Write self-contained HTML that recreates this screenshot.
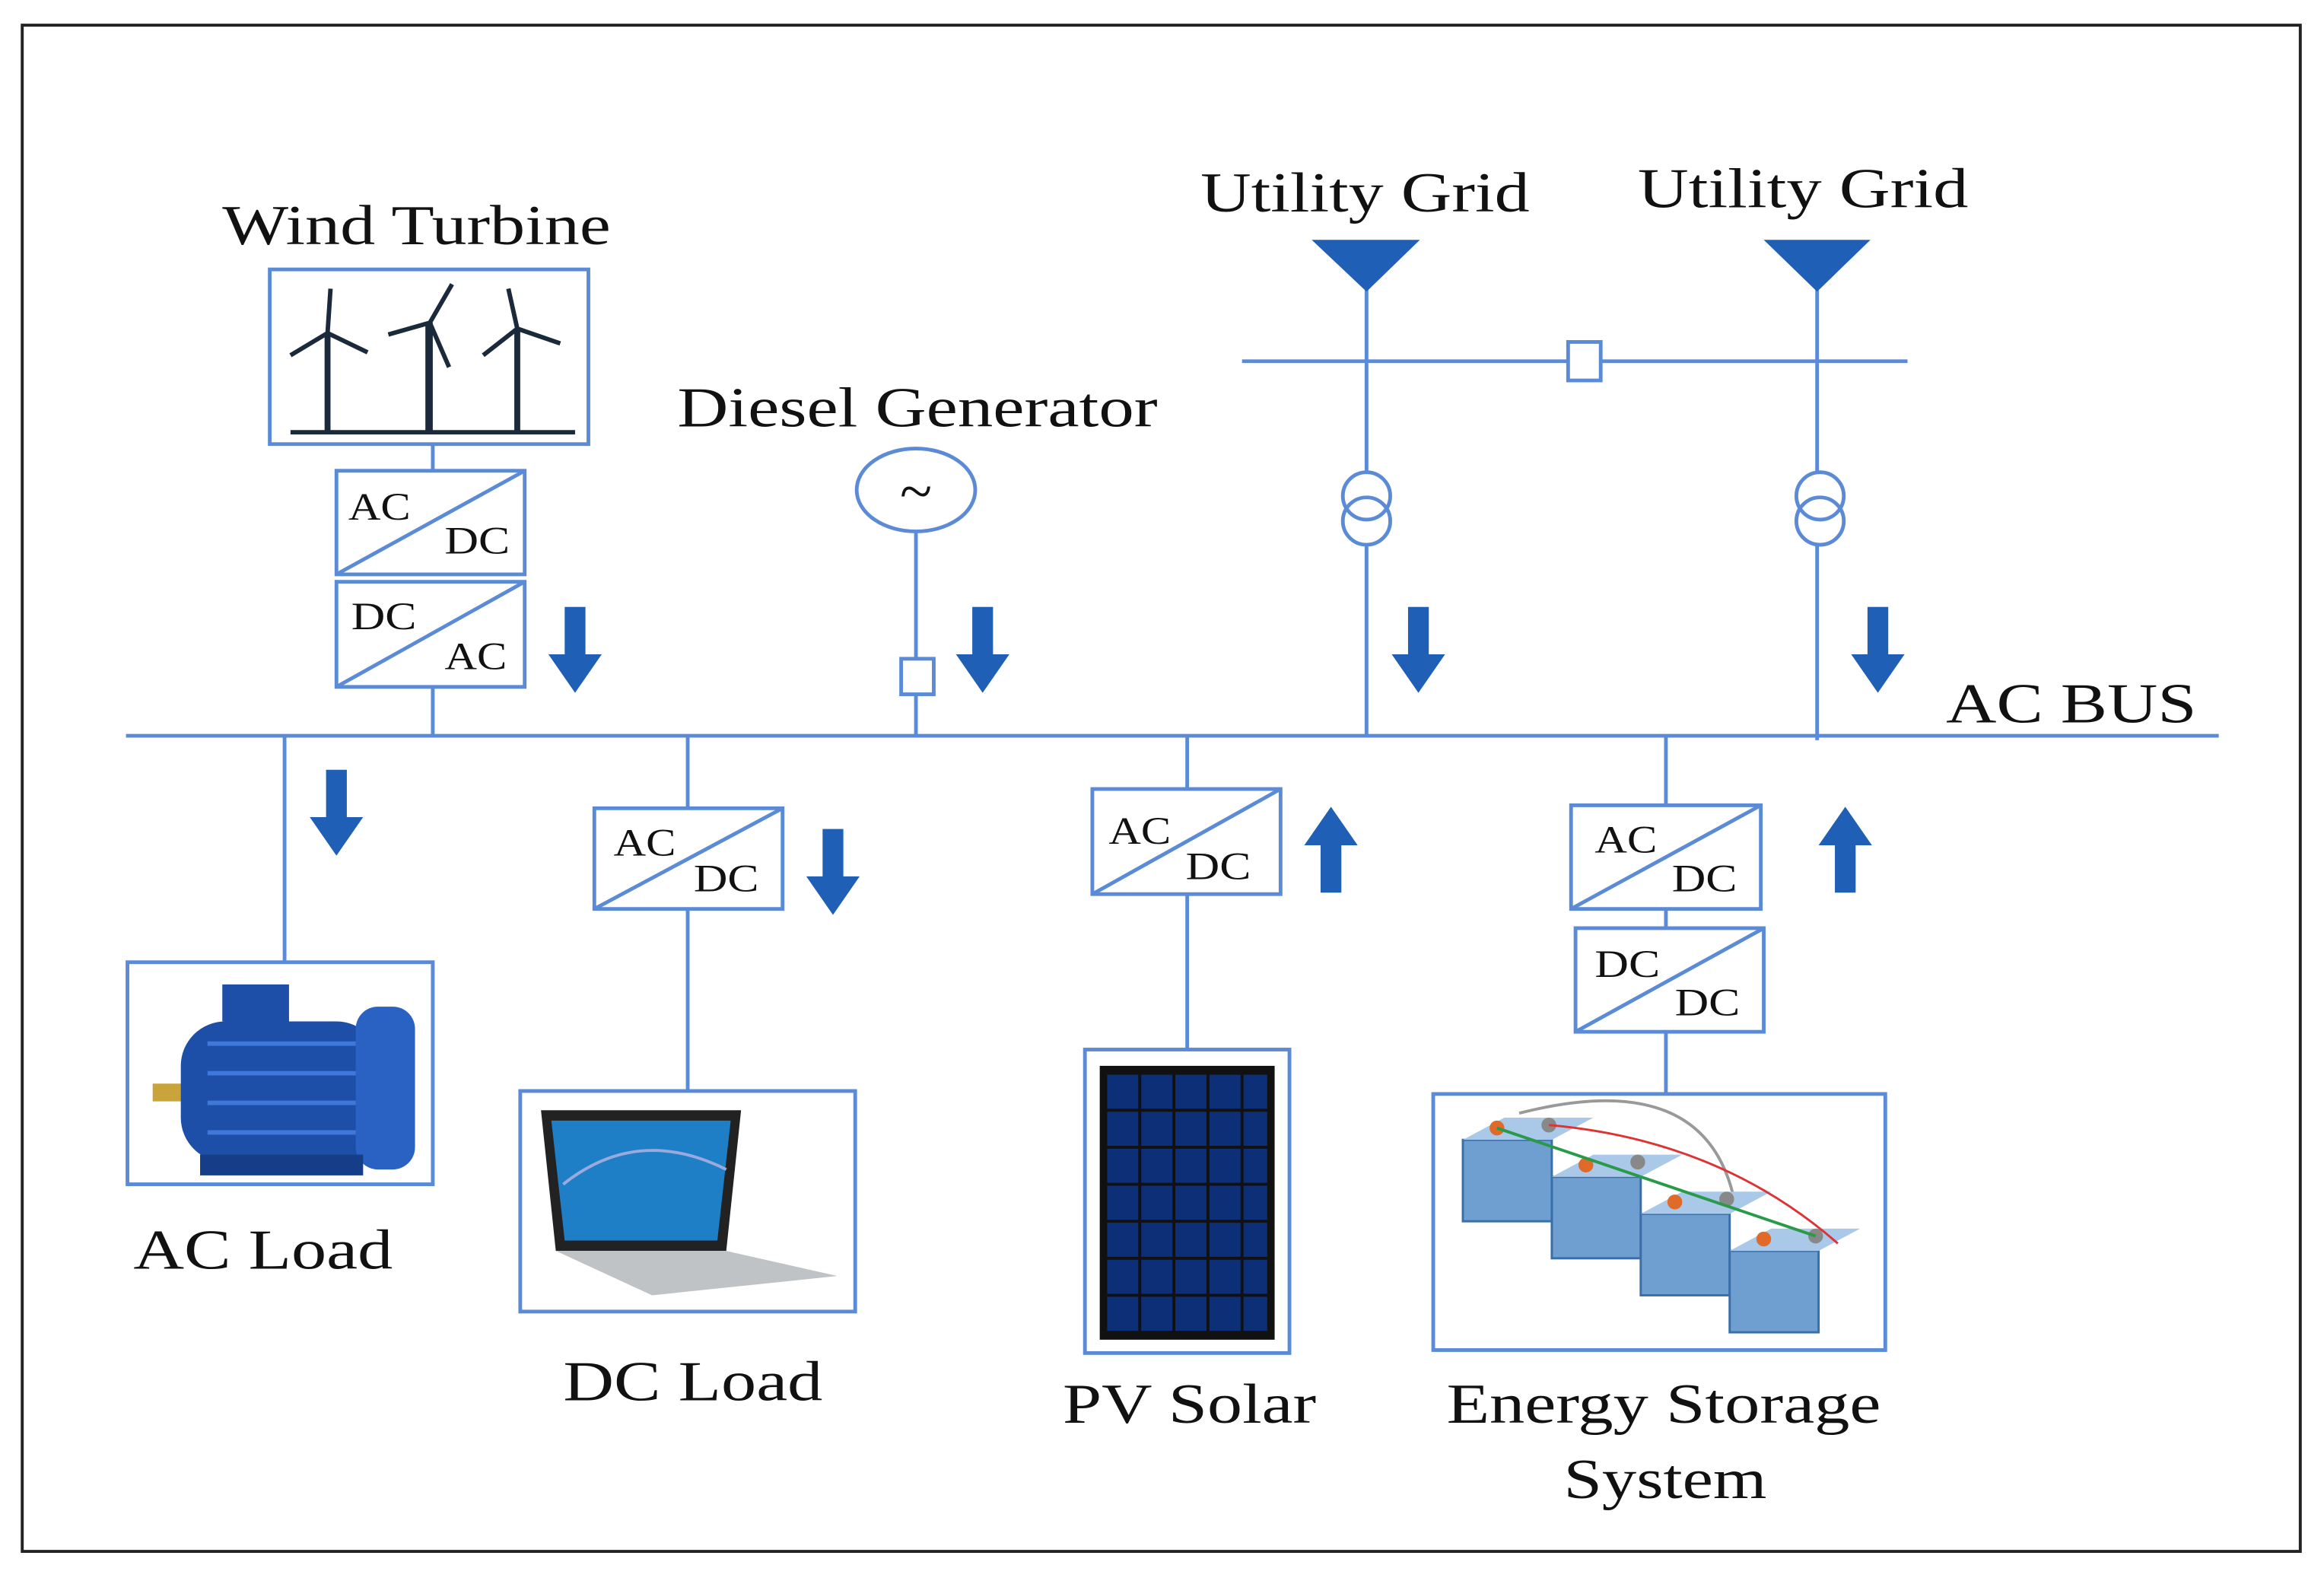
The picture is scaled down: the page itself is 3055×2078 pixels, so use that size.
<!DOCTYPE html>
<html><head><meta charset="utf-8"><style>
html,body{margin:0;padding:0;background:#fff;width:3055px;height:2078px;overflow:hidden}
svg{display:block}
text{font-family:"Liberation Serif",serif;fill:#111}
</style></head><body>
<svg width="3055" height="2078" viewBox="0 0 1568 1068" preserveAspectRatio="none" xmlns="http://www.w3.org/2000/svg">
<defs>
<g id="dn"><rect x="-7" y="0" width="14" height="34" fill="#1f5fb5"/><polygon points="-18,32 18,32 0,58" fill="#1f5fb5"/></g>
<g id="up"><rect x="-7" y="24" width="14" height="34" fill="#1f5fb5"/><polygon points="-18,26 18,26 0,0" fill="#1f5fb5"/></g>
</defs>
<rect x="15" y="17" width="1537" height="1031" fill="none" stroke="#222" stroke-width="2"/>
<g stroke="#5b8bd6" stroke-width="2.5" fill="none">
<line x1="85" y1="497" x2="1497" y2="497"/>
<rect x="182" y="182" width="215" height="118"/>
<line x1="292" y1="300" x2="292" y2="318"/>
<rect x="227" y="318" width="127" height="70"/><line x1="227" y1="388" x2="354" y2="318"/>
<rect x="227" y="393" width="127" height="71"/><line x1="227" y1="464" x2="354" y2="393"/>
<line x1="292" y1="464" x2="292" y2="497"/>
<ellipse cx="618" cy="331" rx="40" ry="28"/>
<line x1="618" y1="359" x2="618" y2="445"/>
<rect x="608" y="445" width="22" height="24" fill="#fff"/>
<line x1="618" y1="469" x2="618" y2="497"/>
<line x1="838" y1="244" x2="1287" y2="244"/>
<rect x="1058" y="231" width="22" height="26" fill="#fff"/>
<line x1="922" y1="190" x2="922" y2="319"/>
<circle cx="922" cy="335" r="16"/><circle cx="922" cy="352" r="16"/>
<line x1="922" y1="368" x2="922" y2="497"/>
<line x1="1226" y1="190" x2="1226" y2="319"/>
<circle cx="1228" cy="335" r="16"/><circle cx="1228" cy="352" r="16"/>
<line x1="1226" y1="368" x2="1226" y2="500"/>
<line x1="192" y1="497" x2="192" y2="650"/>
<rect x="86" y="650" width="206" height="150"/>
<line x1="464" y1="497" x2="464" y2="546"/>
<rect x="401" y="546" width="127" height="68"/><line x1="401" y1="614" x2="528" y2="546"/>
<line x1="464" y1="614" x2="464" y2="737"/>
<rect x="351" y="737" width="226" height="149"/>
<line x1="801" y1="497" x2="801" y2="533"/>
<rect x="737" y="533" width="127" height="71"/><line x1="737" y1="604" x2="864" y2="533"/>
<line x1="801" y1="604" x2="801" y2="709"/>
<rect x="732" y="709" width="138" height="205"/>
<line x1="1124" y1="497" x2="1124" y2="544"/>
<rect x="1060" y="544" width="128" height="70"/><line x1="1060" y1="614" x2="1188" y2="544"/>
<line x1="1124" y1="614" x2="1124" y2="627"/>
<rect x="1063" y="627" width="127" height="70"/><line x1="1063" y1="697" x2="1190" y2="627"/>
<line x1="1124" y1="697" x2="1124" y2="739"/>
<rect x="967" y="739" width="305" height="173"/>
</g>
<polygon points="885,162 958,162 922,197" fill="#1f5fb5"/>
<polygon points="1190,162 1262,162 1226,197" fill="#1f5fb5"/>
<use href="#dn" x="388" y="410"/><use href="#dn" x="663" y="410"/>
<use href="#dn" x="957" y="410"/><use href="#dn" x="1267" y="410"/>
<use href="#dn" x="227" y="520"/><use href="#dn" x="562" y="560"/>
<use href="#up" x="898" y="545"/><use href="#up" x="1245" y="545"/>
<g stroke="#1a2a3a" fill="#1a2a3a">
<line x1="196" y1="292" x2="388" y2="292" stroke-width="3"/>
<rect x="219" y="225" width="4" height="67" stroke="none"/>
<path d="M221 225 L196 240 M221 225 L223 195 M221 225 L248 238" stroke-width="3"/>
<rect x="287" y="218" width="5" height="74" stroke="none"/>
<path d="M290 218 L262 226 M290 218 L305 192 M290 218 L303 248" stroke-width="3"/>
<rect x="347" y="222" width="4" height="70" stroke="none"/>
<path d="M349 222 L326 240 M349 222 L343 195 M349 222 L378 232" stroke-width="3"/>
</g>
<g>
<rect x="103" y="732" width="30" height="12" fill="#c9a43a"/>
<rect x="122" y="690" width="135" height="95" rx="30" fill="#1d4fa8"/>
<rect x="240" y="680" width="40" height="110" rx="15" fill="#2a62c4"/>
<rect x="150" y="665" width="45" height="25" fill="#1d4fa8"/>
<rect x="135" y="780" width="110" height="14" fill="#163e88"/>
<g stroke="#3f78d8" stroke-width="3"><line x1="140" y1="705" x2="240" y2="705"/><line x1="140" y1="725" x2="240" y2="725"/><line x1="140" y1="745" x2="240" y2="745"/><line x1="140" y1="765" x2="240" y2="765"/></g>
</g>
<g>
<polygon points="365,750 500,750 490,845 375,845" fill="#222"/>
<polygon points="372,757 493,757 484,838 381,838" fill="#1e7fc6"/>
<path d="M380 800 Q430 760 490 790" stroke="#9ad" stroke-width="2" fill="none"/>
<polygon points="375,845 490,845 565,862 440,875" fill="#bfc3c6"/>
</g>
<rect x="742" y="720" width="118" height="185" fill="#111"/>
<g fill="#0d2f78">
<rect x="747" y="726" width="21" height="23"/><rect x="770" y="726" width="21" height="23"/><rect x="793" y="726" width="21" height="23"/><rect x="816" y="726" width="21" height="23"/><rect x="839" y="726" width="16" height="23"/>
<rect x="747" y="751" width="21" height="23"/><rect x="770" y="751" width="21" height="23"/><rect x="793" y="751" width="21" height="23"/><rect x="816" y="751" width="21" height="23"/><rect x="839" y="751" width="16" height="23"/>
<rect x="747" y="776" width="21" height="23"/><rect x="770" y="776" width="21" height="23"/><rect x="793" y="776" width="21" height="23"/><rect x="816" y="776" width="21" height="23"/><rect x="839" y="776" width="16" height="23"/>
<rect x="747" y="801" width="21" height="23"/><rect x="770" y="801" width="21" height="23"/><rect x="793" y="801" width="21" height="23"/><rect x="816" y="801" width="21" height="23"/><rect x="839" y="801" width="16" height="23"/>
<rect x="747" y="826" width="21" height="23"/><rect x="770" y="826" width="21" height="23"/><rect x="793" y="826" width="21" height="23"/><rect x="816" y="826" width="21" height="23"/><rect x="839" y="826" width="16" height="23"/>
<rect x="747" y="851" width="21" height="23"/><rect x="770" y="851" width="21" height="23"/><rect x="793" y="851" width="21" height="23"/><rect x="816" y="851" width="21" height="23"/><rect x="839" y="851" width="16" height="23"/>
<rect x="747" y="876" width="21" height="23"/><rect x="770" y="876" width="21" height="23"/><rect x="793" y="876" width="21" height="23"/><rect x="816" y="876" width="21" height="23"/><rect x="839" y="876" width="16" height="23"/>
</g>
<g>
<path d="M1025 752 Q1150 720 1170 810" stroke="#999" stroke-width="2" fill="none"/>
<g fill="#6f9ed0" stroke="#3a6ea8" stroke-width="1.5">
<rect x="987" y="770" width="60" height="55"/><rect x="1047" y="795" width="60" height="55"/>
<rect x="1107" y="820" width="60" height="55"/><rect x="1167" y="845" width="60" height="55"/>
</g>
<g fill="#aac8e8">
<polygon points="987,770 1047,770 1075,755 1015,755"/><polygon points="1047,795 1107,795 1135,780 1075,780"/>
<polygon points="1107,820 1167,820 1195,805 1135,805"/><polygon points="1167,845 1227,845 1255,830 1195,830"/>
</g>
<g fill="#e06a2a"><circle cx="1010" cy="762" r="5"/><circle cx="1070" cy="787" r="5"/><circle cx="1130" cy="812" r="5"/><circle cx="1190" cy="837" r="5"/></g>
<g fill="#888"><circle cx="1045" cy="760" r="5"/><circle cx="1105" cy="785" r="5"/><circle cx="1165" cy="810" r="5"/><circle cx="1225" cy="835" r="5"/></g>
<path d="M1010 762 L1225 835" stroke="#2a9a4a" stroke-width="2"/>
<path d="M1045 760 Q1160 770 1240 840" stroke="#d33" stroke-width="1.5" fill="none"/>
</g>
<g font-size="38" lengthAdjust="spacingAndGlyphs">
<text x="150" y="165" textLength="262" lengthAdjust="spacingAndGlyphs">Wind Turbine</text>
<text x="457" y="288" textLength="324" lengthAdjust="spacingAndGlyphs">Diesel Generator</text>
<text x="810" y="143" textLength="222" lengthAdjust="spacingAndGlyphs">Utility Grid</text>
<text x="1105" y="140" textLength="223" lengthAdjust="spacingAndGlyphs">Utility Grid</text>
<text x="1313" y="488" textLength="169" lengthAdjust="spacingAndGlyphs">AC BUS</text>
<text x="90" y="857" textLength="175" lengthAdjust="spacingAndGlyphs">AC Load</text>
<text x="380" y="946" textLength="175" lengthAdjust="spacingAndGlyphs">DC Load</text>
<text x="717" y="961" textLength="171" lengthAdjust="spacingAndGlyphs">PV Solar</text>
<text x="976" y="961" textLength="293" lengthAdjust="spacingAndGlyphs">Energy Storage</text>
<text x="1055" y="1012" textLength="137" lengthAdjust="spacingAndGlyphs">System</text>
</g>
<text x="618" y="345" font-size="40" text-anchor="middle">~</text>
<g font-size="26">
<text x="235" y="351" textLength="42" lengthAdjust="spacingAndGlyphs">AC</text><text x="300" y="374" textLength="44" lengthAdjust="spacingAndGlyphs">DC</text>
<text x="237" y="425" textLength="44" lengthAdjust="spacingAndGlyphs">DC</text><text x="300" y="452" textLength="42" lengthAdjust="spacingAndGlyphs">AC</text>
<text x="414" y="578" textLength="42" lengthAdjust="spacingAndGlyphs">AC</text><text x="468" y="602" textLength="44" lengthAdjust="spacingAndGlyphs">DC</text>
<text x="748" y="570" textLength="42" lengthAdjust="spacingAndGlyphs">AC</text><text x="800" y="594" textLength="44" lengthAdjust="spacingAndGlyphs">DC</text>
<text x="1076" y="576" textLength="42" lengthAdjust="spacingAndGlyphs">AC</text><text x="1128" y="602" textLength="44" lengthAdjust="spacingAndGlyphs">DC</text>
<text x="1076" y="660" textLength="44" lengthAdjust="spacingAndGlyphs">DC</text><text x="1130" y="686" textLength="44" lengthAdjust="spacingAndGlyphs">DC</text>
</g>
</svg>
</body></html>
